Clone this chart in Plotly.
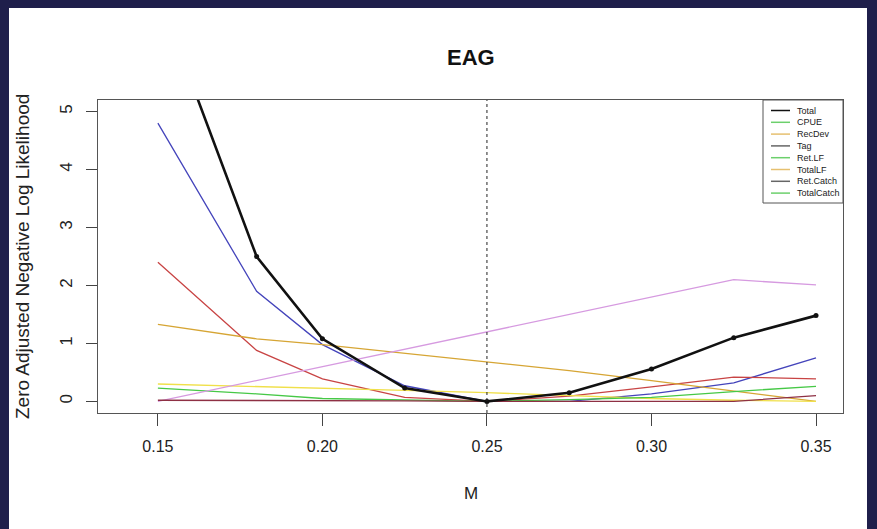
import plotly.graph_objects as go

# Natural mortality values profiled
M = [0.15, 0.18, 0.20, 0.225, 0.25, 0.275, 0.30, 0.325, 0.35]

# Zero-adjusted negative log likelihood per component
total = [7.05, 2.50, 1.08, 0.23, 0.00, 0.15, 0.56, 1.10, 1.48]
blue_comp = [4.80, 1.90, 0.98, 0.27, 0.00, 0.00, 0.13, 0.32, 0.75]
red_comp = [2.40, 0.88, 0.39, 0.07, 0.00, 0.09, 0.25, 0.42, 0.39]
gold_comp = [1.33, 1.08, 0.98, 0.83, 0.69, 0.53, 0.36, 0.18, 0.00]
yellow_comp = [0.30, 0.26, 0.23, 0.19, 0.15, 0.10, 0.05, 0.02, 0.00]
green_comp = [0.23, 0.13, 0.05, 0.02, 0.00, 0.03, 0.07, 0.17, 0.26]
violet_comp = [0.00, 0.36, 0.60, 0.90, 1.20, 1.50, 1.80, 2.10, 2.01]
brown_comp = [0.02, 0.02, 0.02, 0.01, 0.00, 0.00, 0.00, 0.00, 0.10]

component_series = [
    (blue_comp, "#4444bb"),
    (red_comp, "#c84444"),
    (gold_comp, "#d6a534"),
    (yellow_comp, "#f0e04a"),
    (green_comp, "#46c846"),
    (violet_comp, "#d69ae0"),
    (brown_comp, "#8e3044"),
]

# Legend entries and the swatch colours shown beside them
legend_names = ["Total", "CPUE", "RecDev", "Tag", "Ret.LF", "TotalLF", "Ret.Catch", "TotalCatch"]
legend_colors = ["#111111", "#6cd06c", "#e6c070", "#666666", "#6cd06c", "#e6c070", "#666666", "#6cd06c"]

x_ticks = [0.15, 0.20, 0.25, 0.30, 0.35]
y_ticks = [0, 1, 2, 3, 4, 5]
best_M = 0.25

W, H = 877, 529
L, R, T, B = 98, 843, 100, 413


def px(x):
    return (x - L) / (R - L)


def py(y):
    return (B - y) / (B - T)


FONT = "Liberation Sans, Arial, sans-serif"

fig = go.Figure()

for vals, col in component_series:
    fig.add_trace(go.Scatter(x=M, y=vals, mode="lines",
                             line=dict(color=col, width=1.3),
                             showlegend=False, hoverinfo="x+y"))

fig.add_trace(go.Scatter(x=M, y=total, mode="lines+markers",
                         line=dict(color="#111111", width=2.6),
                         marker=dict(color="#111111", size=5),
                         showlegend=False))

shapes = [
    # page background inside the dark frame
    dict(type="rect", xref="paper", yref="paper", layer="below",
         x0=px(9), x1=px(867), y0=py(529), y1=py(8),
         fillcolor="white", line=dict(width=0)),
    # reference line at the best estimate of M
    dict(type="line", xref="x", yref="paper", x0=best_M, x1=best_M, y0=0, y1=1,
         line=dict(color="#222222", width=1, dash="dot")),
    # legend box
    dict(type="rect", xref="paper", yref="paper",
         x0=px(763), x1=px(843), y0=py(203), y1=py(100),
         fillcolor="white", line=dict(color="#555555", width=1)),
]

annotations = []
row0, row_gap = 110.5, 11.8
for i, (name, col) in enumerate(zip(legend_names, legend_colors)):
    yy = row0 + i * row_gap
    shapes.append(dict(type="line", xref="paper", yref="paper",
                       x0=px(771), x1=px(790), y0=py(yy), y1=py(yy),
                       line=dict(color=col, width=1.5)))
    annotations.append(dict(text=name, xref="paper", yref="paper",
                            x=px(795), y=py(yy), xanchor="left", yanchor="middle",
                            showarrow=False, font=dict(family=FONT, size=9, color="#222222")))

annotations += [
    dict(text="<b>EAG</b>", xref="paper", yref="paper", x=px(470.5), y=py(57),
         xanchor="center", yanchor="middle", showarrow=False,
         font=dict(family=FONT, size=22, color="#111111")),
    dict(text="M", xref="paper", yref="paper", x=px(470.5), y=py(493),
         xanchor="center", yanchor="middle", showarrow=False,
         font=dict(family=FONT, size=17, color="#222222")),
    dict(text="Zero Adjusted Negative Log Likelihood", xref="paper", yref="paper",
         x=px(22), y=py(257), xanchor="center", yanchor="middle", textangle=-90,
         showarrow=False, font=dict(family=FONT, size=19, color="#222222")),
]

fig.update_layout(
    width=W, height=H,
    margin=dict(l=L, r=W - R, t=T, b=H - B),
    paper_bgcolor="#1f1f4b",
    plot_bgcolor="white",
    showlegend=False,
    shapes=shapes,
    annotations=annotations,
    font=dict(family=FONT, size=16, color="#222222"),
)

fig.update_xaxes(range=[0.1318, 0.3582], tickvals=x_ticks, tickformat=".2f",
                 ticks="outside", ticklen=12, tickcolor="#444444",
                 showline=True, linecolor="#555555", linewidth=1, mirror=True,
                 showgrid=False, zeroline=False, ticklabelstandoff=7,
                 tickfont=dict(family=FONT, size=16, color="#222222"))
fig.update_yaxes(range=[-0.2, 5.2], tickvals=y_ticks, tickangle=-90,
                 ticks="outside", ticklen=11, tickcolor="#444444",
                 showline=True, linecolor="#555555", linewidth=1, mirror=True,
                 showgrid=False, zeroline=False, ticklabelstandoff=7,
                 tickfont=dict(family=FONT, size=17, color="#222222"))

fig.write_html("out.html")
